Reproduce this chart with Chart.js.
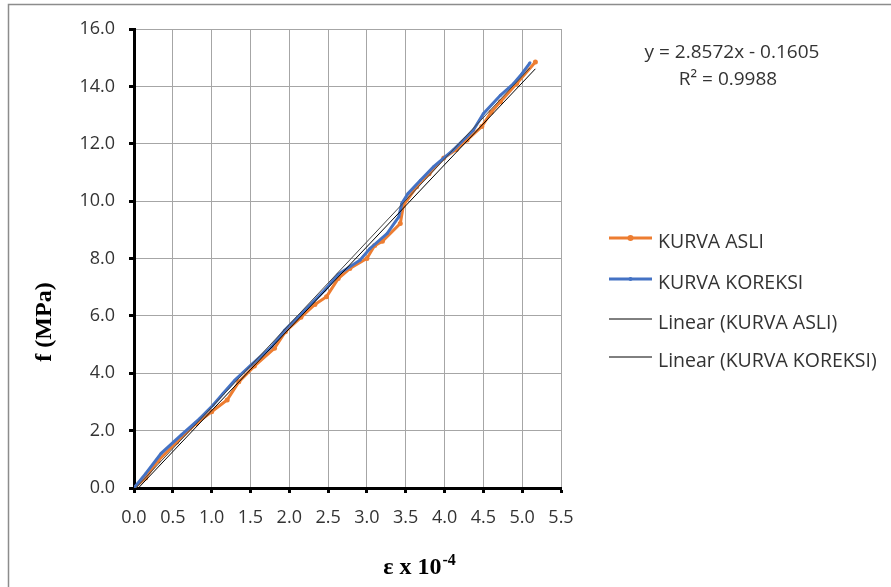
<!DOCTYPE html>
<html>
<head>
<meta charset="utf-8">
<script src="https://cdn.jsdelivr.net/npm/chart.js@4.4.0/dist/chart.umd.min.js"></script>
<style>
  body { margin: 0; background: #fff; }
  #wrap { width: 891px; height: 587px; position: relative; }
</style>
</head>
<body>
<div id="wrap"><canvas id="myChart"></canvas></div>
<script>
// KURVA ASLI (strain x 10^-4, stress MPa)
var asliX = [0, 0.15, 0.31, 0.55, 0.8, 1.0, 1.2, 1.35, 1.55, 1.81, 1.95, 2.15, 2.33, 2.48, 2.63, 2.78, 3.0, 3.1, 3.2, 3.43, 3.47, 3.64, 3.8, 3.99, 4.15, 4.29, 4.48, 4.6, 4.72, 4.93, 5.17];
var asliY = [0, 0.35, 0.95, 1.6, 2.25, 2.66, 3.07, 3.7, 4.25, 4.87, 5.45, 5.95, 6.4, 6.67, 7.3, 7.65, 8.0, 8.45, 8.6, 9.22, 9.85, 10.5, 10.95, 11.5, 11.8, 12.13, 12.6, 13.1, 13.46, 14.1, 14.85];

// KURVA KOREKSI
var koreksiX = [0, 0.15, 0.35, 0.61, 0.85, 1.02, 1.15, 1.3, 1.51, 1.77, 1.94, 2.16, 2.46, 2.63, 2.91, 3.04, 3.26, 3.41, 3.45, 3.53, 3.69, 3.86, 4.11, 4.37, 4.5, 4.72, 4.89, 5.0, 5.1];
var koreksiY = [0, 0.5, 1.21, 1.85, 2.43, 2.89, 3.3, 3.76, 4.29, 4.92, 5.5, 6.09, 6.9, 7.45, 7.94, 8.35, 8.87, 9.45, 9.92, 10.27, 10.73, 11.2, 11.78, 12.47, 13.05, 13.69, 14.1, 14.45, 14.82];

// trendline coefficients
var trendAsli = { slope: 2.8572, intercept: -0.1605 };
var trendKoreksi = { slope: 2.885, intercept: -0.07 };

var xTicks = [0, 0.5, 1.0, 1.5, 2.0, 2.5, 3.0, 3.5, 4.0, 4.5, 5.0, 5.5];
var yTicks = [0, 2, 4, 6, 8, 10, 12, 14, 16];

function toPoints(xs, ys) {
  return xs.map(function (x, i) { return { x: x, y: ys[i] }; });
}
function trendPoints(t, xs) {
  var x0 = Math.min.apply(null, xs), x1 = Math.max.apply(null, xs);
  return [{ x: x0, y: t.slope * x0 + t.intercept }, { x: x1, y: t.slope * x1 + t.intercept }];
}

var textColor = '#333333';
var tickFont = { family: '"Open Sans"', size: 18 };

var extras = {
  id: 'extras',
  beforeDraw: function (chart) {
    var ctx = chart.ctx;
    ctx.save();
    ctx.fillStyle = '#fff';
    ctx.fillRect(0, 0, chart.width, chart.height);
    ctx.strokeStyle = '#8c8c8c';
    ctx.lineWidth = 1.5;
    ctx.strokeRect(8.5, 4.5, chart.width + 20, chart.height + 20);
    ctx.restore();
  },
  afterDraw: function (chart) {
    var ctx = chart.ctx;
    ctx.save();

    // y axis title
    ctx.save();
    ctx.translate(45, 322);
    ctx.rotate(-Math.PI / 2);
    ctx.font = 'bold 24px "Liberation Serif"';
    ctx.fillStyle = '#000';
    ctx.textAlign = 'center';
    ctx.textBaseline = 'middle';
    ctx.fillText('f (MPa)', 0, 0);
    ctx.restore();

    // x axis title with superscript
    ctx.fillStyle = '#000';
    ctx.textBaseline = 'alphabetic';
    ctx.textAlign = 'left';
    ctx.font = 'bold 24px "Liberation Serif"';
    var main = '\u03b5 x 10';
    var wMain = ctx.measureText(main).width;
    ctx.font = 'bold 16px "Liberation Serif"';
    var sup = '-4';
    var wSup = ctx.measureText(sup).width;
    var sx = 419 - (wMain + wSup) / 2;
    ctx.font = 'bold 24px "Liberation Serif"';
    ctx.fillText(main, sx, 574);
    ctx.font = 'bold 16px "Liberation Serif"';
    ctx.fillText(sup, sx + wMain + 1, 565);

    // trendline equation
    ctx.fillStyle = textColor;
    ctx.font = '19px "Open Sans"';
    ctx.textAlign = 'center';
    ctx.fillText('y = 2.8572x - 0.1605', 732, 58);
    ctx.fillText('R\u00b2 = 0.9988', 728, 85);

    // legend
    var order = [3, 2, 0, 1];
    var rowsY = [238, 279, 319, 357];
    ctx.textAlign = 'left';
    order.forEach(function (di, r) {
      var ds = chart.data.datasets[di];
      var y = rowsY[r];
      ctx.strokeStyle = ds.legendColor || ds.borderColor;
      ctx.lineWidth = ds.borderWidth;
      ctx.beginPath();
      ctx.moveTo(609, y);
      ctx.lineTo(652, y);
      ctx.stroke();
      if (ds.pointRadius > 0) {
        ctx.fillStyle = ds.borderColor;
        ctx.beginPath();
        ctx.arc(630.5, y, ds.pointRadius + 0.5, 0, Math.PI * 2);
        ctx.fill();
      }
      ctx.fillStyle = textColor;
      ctx.font = '19.5px "Open Sans"';
      ctx.fillText(ds.label, 658, y + 10);
    });

    ctx.restore();
  }
};

var ctx = document.getElementById('myChart').getContext('2d');
var myChart = new Chart(ctx, {
  type: 'scatter',
  data: {
    datasets: [
      {
        label: 'Linear (KURVA ASLI)',
        data: trendPoints(trendAsli, asliX),
        showLine: true,
        borderColor: '#000000',
        borderWidth: 1,
        pointRadius: 0,
        order: 2
      },
      {
        label: 'Linear (KURVA KOREKSI)',
        data: trendPoints(trendKoreksi, koreksiX),
        showLine: true,
        borderColor: '#444444',
        legendColor: '#000000',
        borderWidth: 1,
        pointRadius: 0,
        order: 1
      },
      {
        label: 'KURVA KOREKSI',
        data: toPoints(koreksiX, koreksiY),
        showLine: true,
        borderColor: '#4472C4',
        backgroundColor: '#4472C4',
        borderWidth: 3,
        pointRadius: 1.5,
        pointBorderWidth: 0,
        order: 3
      },
      {
        label: 'KURVA ASLI',
        data: toPoints(asliX, asliY),
        showLine: true,
        borderColor: '#ED7D31',
        backgroundColor: '#ED7D31',
        borderWidth: 3,
        pointRadius: 2.5,
        pointBorderWidth: 0,
        order: 4
      }
    ]
  },
  options: {
    responsive: true,
    maintainAspectRatio: false,
    animation: false,
    layout: { padding: { top: 29, right: 330, left: 0, bottom: 0 } },
    plugins: {
      legend: { display: false },
      tooltip: { enabled: false }
    },
    scales: {
      x: {
        type: 'linear',
        min: 0,
        max: 5.5,
        afterBuildTicks: function (scale) {
          scale.ticks = xTicks.map(function (v) { return { value: v }; });
        },
        afterFit: function (scale) { scale.height = 99; },
        ticks: {
          padding: 14,
          color: textColor,
          font: tickFont,
          maxRotation: 0,
          callback: function (v) { return v.toFixed(1); }
        },
        grid: { color: '#a6a6a6', lineWidth: 1, tickColor: '#000', tickWidth: 3, tickLength: 5 },
        border: { color: '#000', width: 3 }
      },
      y: {
        type: 'linear',
        min: 0,
        max: 16,
        afterBuildTicks: function (scale) {
          scale.ticks = yTicks.map(function (v) { return { value: v }; });
        },
        afterFit: function (scale) { scale.width = 134; },
        ticks: {
          padding: 14,
          color: textColor,
          font: tickFont,
          callback: function (v) { return v.toFixed(1); }
        },
        grid: { color: '#a6a6a6', lineWidth: 1, tickColor: '#000', tickWidth: 3, tickLength: 5 },
        border: { color: '#000', width: 3 }
      }
    }
  },
  plugins: [extras]
});
</script>
</body>
</html>
